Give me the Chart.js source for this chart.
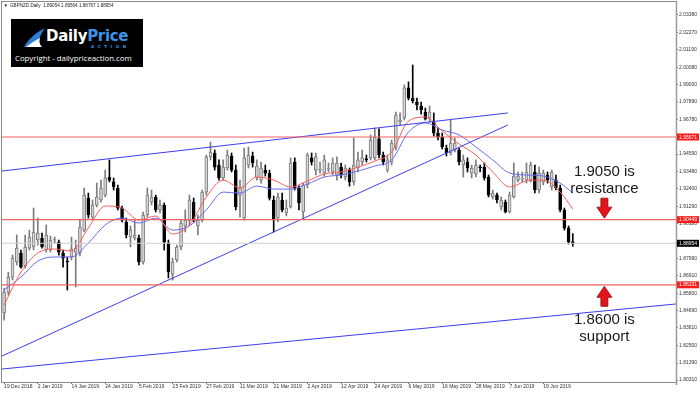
<!DOCTYPE html>
<html>
<head>
<meta charset="utf-8">
<script src="https://cdn.jsdelivr.net/npm/chart.js@4.4.0/dist/chart.umd.min.js"></script>
<style>
  html, body { margin: 0; padding: 0; background: #fff; }
  #wrap { position: relative; width: 700px; height: 393px; overflow: hidden; }
  #logo { position: absolute; left: 11px; top: 19px; width: 132px; height: 48px; background: #000; }
  #logo svg { position: absolute; left: 12px; top: 8px; }
  #brand { position: absolute; left: 35px; top: 8px; font: bold 15px "DejaVu Sans", sans-serif; color: #fff; letter-spacing: -0.3px; white-space: nowrap; }
  #brand span { color: #3d94e6; }
  #action { position: absolute; left: 80px; top: 25px; font: bold 4px "DejaVu Sans", sans-serif; color: #3d94e6; letter-spacing: 3.6px; }
  #copy { position: absolute; left: 4px; top: 34px; font: 7.8px "Open Sans", sans-serif; color: #fff; white-space: nowrap; }
</style>
</head>
<body>
<div id="wrap">
  <canvas id="chart" width="700" height="393"></canvas>
  <div id="logo">
    <svg width="24" height="21" viewBox="0 0 24 21">
      <path d="M1 20 C 6 12, 12 6, 22 1 C 17 8, 15 13, 17 20 Z" fill="#2f7fd8"/>
      <path d="M3 20 C 8 16, 13 13, 17 11 C 16 14, 16 17, 19 20 Z" fill="#ffffff"/>
    </svg>
    <div id="brand">Daily<span>Price</span></div>
    <div id="action">ACTION</div>
    <div id="copy">Copyright - dailypriceaction.com</div>
  </div>
</div>
<script>
// GBPNZD daily, 19 Dec 2018 - end of Jun 2019
const SLOTS = 160;

const dateLabels = ['19 Dec 2018', '2 Jan 2019', '14 Jan 2019', '24 Jan 2019', '5 Feb 2019', '15 Feb 2019',
    '27 Feb 2019', '11 Mar 2019', '21 Mar 2019', '2 Apr 2019', '12 Apr 2019', '24 Apr 2019', '6 May 2019',
    '16 May 2019', '28 May 2019', '7 Jun 2019', '19 Jun 2019'];

const yTicks = [2.0338, 2.0227, 2.0119, 2.0008, 1.9900, 1.9789, 1.9678, 1.9459, 1.9348, 1.9240, 1.9129,
    1.9018, 1.8799, 1.8691, 1.8580, 1.8469, 1.8361, 1.8250, 1.8139, 1.8031];

const opens = [
    1.8455, 1.8587, 1.8682, 1.8777, 1.8834, 1.8752, 1.8865, 1.8872, 1.8916, 1.8929,
    1.8853, 1.8853, 1.8916, 1.8903, 1.8834, 1.8783, 1.8809, 1.8840, 1.8834, 1.8979,
    1.9181, 1.9061, 1.9137, 1.9169, 1.9200, 1.9314, 1.9283, 1.9245, 1.9118, 1.9030,
    1.8935, 1.8929, 1.8929, 1.8777, 1.9074, 1.9156, 1.9188, 1.9106, 1.9137, 1.8897,
    1.8701, 1.8790, 1.8872, 1.9005, 1.9036, 1.9156, 1.9005, 1.9042, 1.9219, 1.9441,
    1.9466, 1.9390, 1.9308, 1.9371, 1.9447, 1.9358, 1.9200, 1.9055, 1.9390, 1.9447,
    1.9308, 1.9295, 1.9358, 1.9339, 1.9169, 1.9055, 1.9169, 1.9087, 1.9125, 1.9409,
    1.9245, 1.9093, 1.9264, 1.9435, 1.9358, 1.9358, 1.9339, 1.9365, 1.9346, 1.9327,
    1.9377, 1.9314, 1.9358, 1.9283, 1.9371, 1.9409, 1.9428, 1.9435, 1.9435, 1.9555,
    1.9453, 1.9358, 1.9409, 1.9504, 1.9662, 1.9687, 1.9877, 1.9813, 1.9788, 1.9763,
    1.9725, 1.9687, 1.9662, 1.9592, 1.9567, 1.9497, 1.9466, 1.9485, 1.9485, 1.9390,
    1.9409, 1.9339, 1.9333, 1.9377, 1.9377, 1.9314, 1.9188, 1.9200, 1.9125, 1.9156,
    1.9093, 1.9188, 1.9295, 1.9301, 1.9295, 1.9295, 1.9346, 1.9232, 1.9283, 1.9327,
    1.9251, 1.9295, 1.9245, 1.9106, 1.8991, 1.89054];

const highs = [
    1.8613, 1.8713, 1.8821, 1.8948, 1.8853, 1.8948, 1.8979, 1.9118, 1.9055, 1.8960,
    1.9011, 1.8941, 1.8935, 1.8916, 1.8853, 1.8809, 1.8935, 1.8916, 1.9042, 1.9245,
    1.9213, 1.9169, 1.9276, 1.9295, 1.9358, 1.9422, 1.9308, 1.9264, 1.9131, 1.9055,
    1.9005, 1.9042, 1.8948, 1.9093, 1.9245, 1.9232, 1.9200, 1.9169, 1.9150, 1.8916,
    1.8802, 1.8884, 1.9042, 1.9106, 1.9200, 1.9181, 1.9074, 1.9232, 1.9453, 1.9535,
    1.9485, 1.9422, 1.9422, 1.9485, 1.9466, 1.9390, 1.9295, 1.9497, 1.9504, 1.9472,
    1.9422, 1.9409, 1.9390, 1.9358, 1.9194, 1.9213, 1.9213, 1.9169, 1.9435, 1.9435,
    1.9258, 1.9276, 1.9466, 1.9466, 1.9466, 1.9409, 1.9453, 1.9403, 1.9435, 1.9441,
    1.9403, 1.9390, 1.9371, 1.9561, 1.9472, 1.9485, 1.9453, 1.9580, 1.9624, 1.9618,
    1.9472, 1.9453, 1.9548, 1.9725, 1.9719, 1.9896, 1.9915, 2.0022, 1.9813, 1.9788,
    1.9750, 1.9763, 1.9719, 1.9624, 1.9592, 1.9516, 1.9674, 1.9561, 1.9497, 1.9453,
    1.9435, 1.9390, 1.9422, 1.9390, 1.9403, 1.9327, 1.9232, 1.9213, 1.9188, 1.9169,
    1.9219, 1.9403, 1.9346, 1.9346, 1.9403, 1.9409, 1.9390, 1.9377, 1.9358, 1.9346,
    1.9358, 1.9327, 1.9264, 1.9118, 1.9005, 1.89564];

const lows = [
    1.8410, 1.8568, 1.8663, 1.8758, 1.8739, 1.8739, 1.8853, 1.8853, 1.8884, 1.8865,
    1.8840, 1.8840, 1.8897, 1.8821, 1.8745, 1.8600, 1.8790, 1.8619, 1.8815, 1.8967,
    1.9055, 1.9042, 1.9125, 1.9156, 1.9188, 1.9283, 1.9232, 1.9106, 1.9030, 1.8929,
    1.8872, 1.8916, 1.8758, 1.8764, 1.9061, 1.9137, 1.9093, 1.9087, 1.8853, 1.8676,
    1.8663, 1.8777, 1.8853, 1.8967, 1.9011, 1.9030, 1.8948, 1.9030, 1.9200, 1.9422,
    1.9358, 1.9295, 1.9295, 1.9358, 1.9346, 1.9106, 1.9061, 1.9042, 1.9371, 1.9377,
    1.9295, 1.9276, 1.9320, 1.9169, 1.8967, 1.9030, 1.9093, 1.9068, 1.9118, 1.9232,
    1.9106, 1.9055, 1.9245, 1.9390, 1.9327, 1.9339, 1.9320, 1.9346, 1.9327, 1.9295,
    1.9308, 1.9295, 1.9257, 1.9264, 1.9346, 1.9390, 1.9409, 1.9422, 1.9422, 1.9435,
    1.9390, 1.9346, 1.9390, 1.9485, 1.9643, 1.9674, 1.9801, 1.9782, 1.9738, 1.9712,
    1.9674, 1.9662, 1.9573, 1.9548, 1.9491, 1.9447, 1.9453, 1.9472, 1.9390, 1.9314,
    1.9346, 1.9308, 1.9314, 1.9346, 1.9295, 1.9188, 1.9175, 1.9150, 1.9106, 1.9087,
    1.9087, 1.9181, 1.9283, 1.9283, 1.9276, 1.9283, 1.9213, 1.9213, 1.9264, 1.9276,
    1.9232, 1.9232, 1.9093, 1.8979, 1.8891, 1.88767];

const closes = [
    1.8587, 1.8682, 1.8802, 1.8865, 1.8745, 1.8872, 1.8935, 1.8967, 1.8960, 1.8872,
    1.8948, 1.8916, 1.8922, 1.8840, 1.8802, 1.8777, 1.8859, 1.8865, 1.8998, 1.9200,
    1.9074, 1.9137, 1.9188, 1.9245, 1.9308, 1.9295, 1.9251, 1.9118, 1.9042, 1.8948,
    1.8979, 1.8948, 1.8777, 1.9074, 1.9200, 1.9188, 1.9106, 1.9137, 1.8903, 1.8714,
    1.8777, 1.8872, 1.9023, 1.9042, 1.9169, 1.9042, 1.9042, 1.9219, 1.9441, 1.9472,
    1.9377, 1.9308, 1.9377, 1.9453, 1.9358, 1.9125, 1.9245, 1.9435, 1.9453, 1.9403,
    1.9384, 1.9371, 1.9339, 1.9181, 1.9049, 1.9188, 1.9106, 1.9118, 1.9403, 1.9245,
    1.9150, 1.9264, 1.9453, 1.9409, 1.9441, 1.9365, 1.9422, 1.9371, 1.9403, 1.9403,
    1.9327, 1.9371, 1.9283, 1.9390, 1.9422, 1.9435, 1.9422, 1.9548, 1.9567, 1.9453,
    1.9409, 1.9422, 1.9529, 1.9706, 1.9674, 1.9877, 1.9813, 1.9795, 1.9769, 1.9738,
    1.9681, 1.9725, 1.9592, 1.9567, 1.9504, 1.9466, 1.9529, 1.9529, 1.9409, 1.9422,
    1.9371, 1.9371, 1.9390, 1.9371, 1.9308, 1.9200, 1.9213, 1.9169, 1.9169, 1.9093,
    1.9200, 1.9320, 1.9320, 1.9308, 1.9346, 1.9390, 1.9232, 1.9339, 1.9339, 1.9295,
    1.9346, 1.9245, 1.9106, 1.8991, 1.8903, 1.88954];

// moving averages read every 4th bar
const maIdx = [0, 4, 8, 12, 16, 20, 24, 28, 32, 36, 40, 44, 48, 52, 56, 60, 64, 68, 72, 76, 80, 84,
    88, 92, 96, 100, 104, 108, 112, 116, 120, 124, 128, 132, 135];
const maFast = [1.8505, 1.8714, 1.8834, 1.8859, 1.8847, 1.8992, 1.9131, 1.9118, 1.9042, 1.9068, 1.8954,
    1.9011, 1.9188, 1.9295, 1.9245, 1.9314, 1.9295, 1.9251, 1.9289, 1.9333, 1.9346, 1.9377, 1.9415,
    1.9472, 1.9668, 1.9693, 1.9605, 1.9523, 1.9453, 1.9346, 1.9251, 1.9289, 1.9295, 1.9219, 1.9112];
const maSlow = [1.8600, 1.8682, 1.8783, 1.8809, 1.8809, 1.8897, 1.9011, 1.9055, 1.9023, 1.9055, 1.8979,
    1.9005, 1.9106, 1.9219, 1.9213, 1.9257, 1.9238, 1.9238, 1.9270, 1.9314, 1.9327, 1.9352, 1.9384,
    1.9422, 1.9598, 1.9656, 1.9611, 1.9580, 1.9504, 1.9422, 1.9339, 1.9327, 1.9320, 1.9276, 1.9213];

const levelPrices = [1.95671, 1.90449, 1.86331];
const lastPrice = 1.88954;
const resistanceLevel = 1.90449;
const supportLevel = 1.86331;

// trend lines: [start slot, start price, end slot, end price]
const trendUpper = [-0.5, 1.9352, 119.6, 1.9719];
const trendRising = [-0.5, 1.8183, 119.6, 1.9643];
const trendLower = [-0.5, 1.8101, 159.5, 1.8512];

const slotLabels = Array.from({ length: SLOTS }, (_, i) => String(i));
const isBull = closes.map((c, i) => c >= opens[i]);

const FONT = '"Liberation Sans", Arial, sans-serif';

function segment(t, color, width) {
    return {
        type: 'line', xAxisID: 'x2', order: 0,
        data: [{ x: t[0], y: t[1] }, { x: t[2], y: t[3] }],
        borderColor: color, borderWidth: width, pointRadius: 0
    };
}

function levelLine(price, color, width) {
    return segment([-0.5, price, SLOTS - 0.5, price], color, width);
}

function maLine(values, color) {
    return {
        type: 'line', xAxisID: 'x2', order: 0,
        data: maIdx.map((x, k) => ({ x: x, y: values[k] })),
        borderColor: color, borderWidth: 1, pointRadius: 0,
        cubicInterpolationMode: 'monotone'
    };
}

function drawArrow(ctx, cx, tipY, dir) {
    const headH = 11, headW = 7.5, shaftW = 3.5, shaftH = 9;
    const baseY = tipY - dir * headH;
    const endY = baseY - dir * shaftH;
    ctx.beginPath();
    ctx.moveTo(cx, tipY);
    ctx.lineTo(cx - headW, baseY);
    ctx.lineTo(cx - shaftW, baseY);
    ctx.lineTo(cx - shaftW, endY);
    ctx.lineTo(cx + shaftW, endY);
    ctx.lineTo(cx + shaftW, baseY);
    ctx.lineTo(cx + headW, baseY);
    ctx.closePath();
    ctx.fillStyle = '#e3141c';
    ctx.fill();
    ctx.strokeStyle = '#8e0b0b';
    ctx.lineWidth = 0.8;
    ctx.stroke();
}

const decorations = {
    id: 'decorations',
    afterDatasetsDraw(chart) {
        const ctx = chart.ctx;
        const y = chart.scales.y;
        const x2 = chart.scales.x2;
        const cx = x2.getPixelForValue(142.5);
        const resY = y.getPixelForValue(resistanceLevel);
        const supY = y.getPixelForValue(supportLevel);
        ctx.save();
        drawArrow(ctx, cx, resY - 1.5, 1);
        drawArrow(ctx, cx, supY + 1.5, -1);
        ctx.fillStyle = '#1a1a1a';
        ctx.font = '15px ' + FONT;
        ctx.textAlign = 'center';
        ctx.textBaseline = 'middle';
        ctx.fillText('1.9050 is', cx, resY - 48);
        ctx.fillText('resistance', cx, resY - 31);
        ctx.fillText('1.8600 is', cx, supY + 35);
        ctx.fillText('support', cx, supY + 52);
        ctx.restore();
    },
    afterDraw(chart) {
        const ctx = chart.ctx;
        const a = chart.chartArea;
        const y = chart.scales.y;
        ctx.save();
        // frame
        ctx.strokeStyle = '#8a8a8a';
        ctx.lineWidth = 1;
        ctx.strokeRect(a.left - 0.5, a.top - 0.5, a.right - a.left + 1, a.bottom - a.top + 1);
        ctx.strokeStyle = '#9a9a9a';
        ctx.lineWidth = 1.5;
        ctx.beginPath();
        ctx.moveTo(a.right + 0.5, a.top - 1);
        ctx.lineTo(a.right + 0.5, a.bottom + 3);
        ctx.stroke();
        // price tags
        const tags = levelPrices.map(p => [p, '#ff1a1a']).concat([[lastPrice, '#000000']]);
        ctx.font = '5px ' + FONT;
        ctx.textAlign = 'left';
        ctx.textBaseline = 'middle';
        tags.forEach(([p, col]) => {
            const py = y.getPixelForValue(p);
            ctx.fillStyle = col;
            ctx.fillRect(a.right + 1, py - 3.5, 22, 7);
            ctx.fillStyle = '#ffffff';
            ctx.fillText(p.toFixed(5), a.right + 3, py + 0.3);
        });
        // title
        ctx.fillStyle = '#222';
        ctx.font = '4.6px ' + FONT;
        ctx.fillText('\u25BC', a.left + 1.5, a.top + 3.5);
        ctx.fillText('GBPNZD.Daily  1.89054 1.89564 1.88767 1.88954', a.left + 8, a.top + 3.5);
        ctx.restore();
    }
};

const datasets = [
    levelLine(levelPrices[0], '#f26060', 1.2),
    levelLine(levelPrices[1], '#f26060', 1.2),
    levelLine(levelPrices[2], '#f26060', 1.2),
    levelLine(lastPrice, '#cfcfcf', 1),
    segment(trendUpper, '#3d3df0', 1),
    segment(trendRising, '#3d3df0', 1),
    segment(trendLower, '#3d3df0', 1),
    maLine(maFast, '#ff5a5a'),
    maLine(maSlow, '#6a6af5'),
    {
        type: 'bar', order: 5, grouped: false,
        data: opens.map((o, i) => [o, closes[i]]),
        backgroundColor: isBull.map(b => b ? '#d6d6d6' : '#000000'),
        borderColor: isBull.map(b => b ? '#7c7c7c' : '#000000'),
        borderWidth: 1, borderSkipped: false,
        barThickness: 3, minBarLength: 1
    },
    {
        type: 'bar', order: 6, grouped: false,
        data: lows.map((l, i) => [l, highs[i]]),
        backgroundColor: isBull.map(b => b ? '#7c7c7c' : '#000000'),
        borderWidth: 0, barThickness: 1
    }
];

new Chart(document.getElementById('chart'), {
    type: 'bar',
    data: { labels: slotLabels, datasets: datasets },
    options: {
        responsive: false,
        animation: false,
        layout: { padding: { left: 2, top: 2, right: 0, bottom: 0 } },
        plugins: { legend: { display: false }, tooltip: { enabled: false } },
        scales: {
            x: {
                type: 'category',
                offset: true,
                border: { display: false },
                grid: { drawOnChartArea: false, drawTicks: true, tickLength: 2, offset: false, color: '#777' },
                ticks: {
                    autoSkip: false, maxRotation: 0, minRotation: 0, align: 'start', padding: 0,
                    color: '#333', font: { size: 5, family: FONT },
                    callback: v => dateLabels[v / 8]
                },
                afterBuildTicks: s => {
                    s.ticks = s.ticks.filter(t => t.value % 8 === 0 && t.value / 8 < dateLabels.length);
                },
                afterFit: s => { s.height = 11; s.paddingLeft = 0; s.paddingRight = 0; }
            },
            x2: { type: 'linear', display: false, offset: false, grid: { offset: false }, min: -0.5, max: SLOTS - 0.5 },
            y: {
                position: 'right',
                min: 1.8019,
                max: 2.0420,
                border: { display: false },
                grid: { drawOnChartArea: false, drawTicks: true, tickLength: 2, color: '#777' },
                ticks: {
                    padding: 1, color: '#333', font: { size: 5, family: FONT },
                    callback: v => v.toFixed(5)
                },
                afterBuildTicks: s => { s.ticks = yTicks.map(v => ({ value: v })); },
                afterFit: s => { s.width = 24; s.paddingTop = 0; s.paddingBottom = 0; }
            }
        }
    },
    plugins: [decorations]
});
</script>
</body>
</html>
